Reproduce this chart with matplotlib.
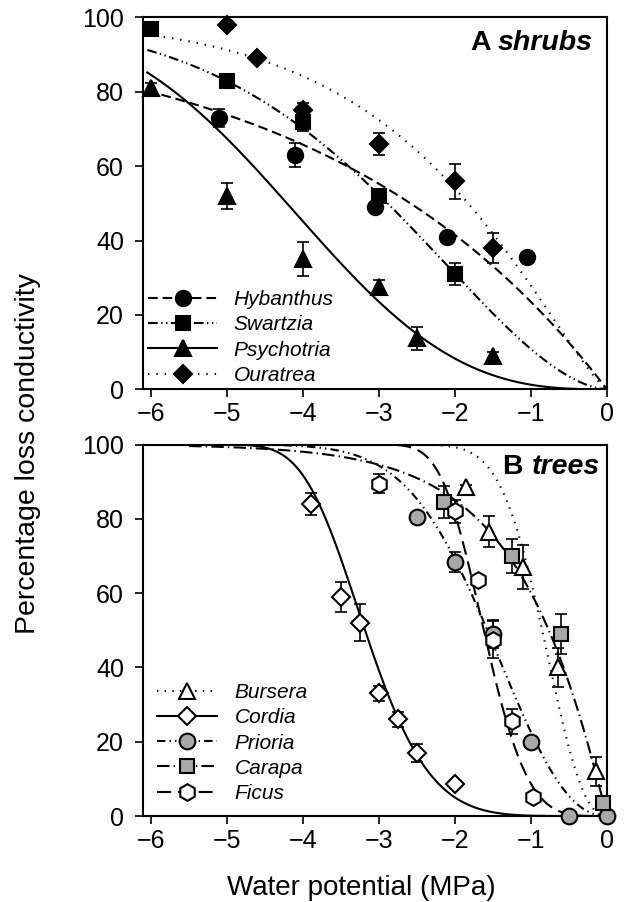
import numpy as np
import matplotlib.pyplot as plt
from matplotlib.lines import Line2D

plt.rcParams['font.family'] = ['Liberation Sans', 'DejaVu Sans']
plt.rcParams['lines.scale_dashes'] = False

# ---- A: shrubs (measured points, water potential MPa vs PLC %) ----
hyb_x = [-5.1, -4.1, -3.05, -2.1, -1.05]
hyb_y = [73, 63, 49, 41, 35.5]
hyb_e = [2.5, 3.2, 1, 1, 1]

swa_x = [-6, -5, -4, -3, -2]
swa_y = [97, 83, 72, 52, 31]
swa_e = [1, 1, 2.5, 1.5, 3]

psy_x = [-6, -5, -4, -3, -2.5, -1.5]
psy_y = [81, 52, 35, 27.5, 13.7, 9]
psy_e = [1.5, 3.4, 4.5, 2, 3.1, 1]

our_x = [-5, -4.6, -4, -3, -2, -1.5]
our_y = [98, 89, 75, 66, 56, 38]
our_e = [1, 1, 2, 2.9, 4.7, 4.1]

# fitted Weibull curves, PLC = 100*(1-exp(-(-psi/b)^c))
shrub_b = [3.73, 3.58, 4.8, 2.45]
shrub_c = [1.0, 1.7, 2.8, 1.25]

# ---- B: trees ----
bur_x = [-1.85, -1.55, -1.1, -0.65, -0.15]
bur_y = [88.5, 76.5, 67, 40, 12]
bur_e = [0.5, 4.2, 6, 5.2, 4]

cor_x = [-3.9, -3.5, -3.25, -3.0, -2.75, -2.5, -2.0]
cor_y = [84, 59, 52, 33, 26, 17, 8.5]
cor_e = [3, 4, 5, 2, 2, 2.5, 1]

pri_x = [-2.5, -2.0, -1.5, -1.0, -0.5, 0]
pri_y = [80.5, 68.5, 49, 20, 0, 0]
pri_e = [1, 2.7, 3.8, 1, 0, 0]

car_x = [-2.15, -1.25, -0.6, -0.05]
car_y = [84.5, 70, 49, 3.5]
car_e = [4.3, 4.5, 5.5, 1]

fic_x = [-3.0, -2.0, -1.7, -1.5, -1.25, -0.97]
fic_y = [89.5, 82, 63.5, 47.5, 25.5, 5]
fic_e = [2.5, 3, 1, 5, 3.4, 1]

tree_b = [1.0, 3.4, 1.86, 1.085, 1.77]
tree_c = [2.3, 5.6, 2.2, 1.05, 4.2]


def weibull(psi, b, c):
    return 100 * (1 - np.exp(-(-psi / b) ** c))


fig = plt.figure(figsize=(6.24, 9.02), dpi=100)
ax1 = fig.add_axes([0.2287, 0.5684, 0.744, 0.4122])
ax2 = fig.add_axes([0.2287, 0.0953, 0.744, 0.4119])

grey = '#a8a8a8'

shrubs = [
    ('Hybanthus', hyb_x, hyb_y, hyb_e, 'o', 11, 'k', (7, 3.5)),
    ('Swartzia', swa_x, swa_y, swa_e, 's', 9.5, 'k', (7, 2.5, 1, 2.5, 1, 2.5)),
    ('Psychotria', psy_x, psy_y, psy_e, '^', 11, 'k', None),
    ('Ouratrea', our_x, our_y, our_e, 'D', 9.5, 'k', (1, 5)),
]
trees = [
    ('Bursera', bur_x, bur_y, bur_e, '^', 11, 'white', (1, 4.5)),
    ('Cordia', cor_x, cor_y, cor_e, 'D', 9.5, 'white', None),
    ('Prioria', pri_x, pri_y, pri_e, 'o', 11.3, grey, (6, 3, 1, 3, 1, 3)),
    ('Carapa', car_x, car_y, car_e, 's', 10.5, grey, (9, 3, 1, 3)),
    ('Ficus', fic_x, fic_y, fic_e, 'h', 12, 'white', (10, 5)),
]


def draw(ax, groups, bs, cs, x0):
    psi = np.linspace(x0, 0, 400)
    handles = []
    for (name, x, y, e, mk, ms, fc, dash), b, c in zip(groups, bs, cs):
        ln, = ax.plot(psi, weibull(psi, b, c), color='k', lw=1.5, zorder=2)
        if dash is not None:
            ln.set_dashes(dash)
        ax.errorbar(x, y, yerr=e, fmt='none', ecolor='k', elinewidth=1.2,
                    capsize=4, capthick=1.2, zorder=3, clip_on=False)
        ax.plot(x, y, ls='none', marker=mk, ms=ms, mfc=fc, mec='k', mew=1.5,
                zorder=4, clip_on=False)
        h = Line2D([], [], color='k', lw=1.5, marker=mk, ms=ms, mfc=fc,
                   mec='k', mew=1.5)
        if dash is not None:
            h.set_dashes(dash)
        handles.append((h, name))
    return handles


h1 = draw(ax1, shrubs, shrub_b, shrub_c, -6.05)
h2 = draw(ax2, trees, tree_b, tree_c, -5.5)

for ax in (ax1, ax2):
    ax.set_xlim(-6.11, 0)
    ax.set_ylim(0, 100)
    ax.set_xticks([-6, -5, -4, -3, -2, -1, 0])
    ax.set_yticks([0, 20, 40, 60, 80, 100])
    ax.tick_params(direction='out', length=5.5, width=1.2, labelsize=18,
                   top=False, right=False)
    ax.tick_params(axis='x', pad=3.5)
    ax.tick_params(axis='y', pad=8)
    for s in ax.spines.values():
        s.set_linewidth(1.5)

leg1 = ax1.legend([h for h, n in h1], [n for h, n in h1], loc='lower left',
                  bbox_to_anchor=(0.012, 0.012), frameon=False, borderpad=0,
                  borderaxespad=0, handlelength=3.3, handletextpad=0.8,
                  labelspacing=0.3, prop={'style': 'italic', 'size': 15})
leg2 = ax2.legend([h for h, n in h2], [n for h, n in h2], loc='lower left',
                  bbox_to_anchor=(0.03, 0.035), frameon=False, borderpad=0,
                  borderaxespad=0, handlelength=2.9, handletextpad=0.85,
                  labelspacing=0.3, prop={'style': 'italic', 'size': 15})

t1 = ax1.text(0.970, 0.9126, 'shrubs', transform=ax1.transAxes, ha='right',
              va='baseline', fontsize=20.5, fontweight='bold', style='italic')
ax1.annotate('A ', xy=(0, 0), xycoords=t1, ha='right', va='bottom',
             fontsize=20.5, fontweight='bold')
t2 = ax2.text(0.985, 0.9206, 'trees', transform=ax2.transAxes, ha='right',
              va='baseline', fontsize=20.5, fontweight='bold', style='italic')
ax2.annotate('B ', xy=(0, 0), xycoords=t2, ha='right', va='bottom',
             fontsize=20.5, fontweight='bold')

fig.text(0.045, 0.497, 'Percentage loss conductivity', rotation=90,
         ha='center', va='center', fontsize=20.5)
fig.text(0.579, 0.0078, 'Water potential (MPa)', ha='center', va='baseline',
         fontsize=20)

fig.savefig('out.png', dpi=100)
